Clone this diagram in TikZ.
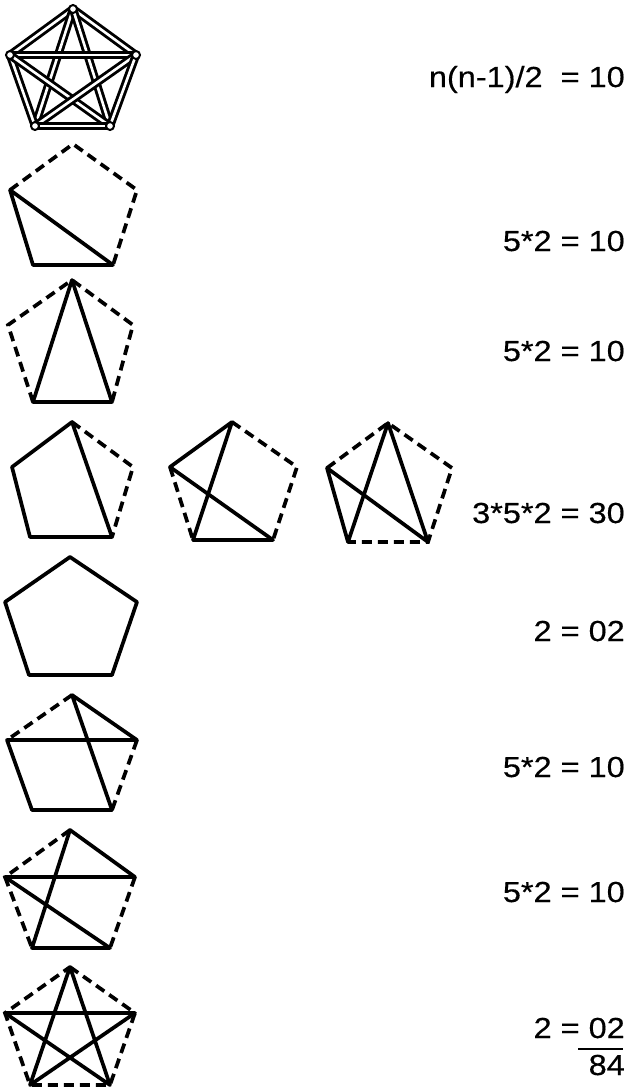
\documentclass[tikz,border=0pt]{standalone}
\usepackage{fontspec}
\setmainfont[FakeStretch=1.12,FakeBold=0.4]{Liberation Sans}
\newcommand\pentpts[6]{%
  \coordinate (#1t) at #2;
  \coordinate (#1l) at #3;
  \coordinate (#1r) at #4;
  \coordinate (#1bl) at #5;
  \coordinate (#1br) at #6;}
\begin{document}
\begin{tikzpicture}[x=1pt,y=-1pt,
  se/.style={line width=3.7pt, line cap=round, line join=round},
  de/.style={line width=3.7pt, dash pattern=on 10pt off 6pt},
  dbl/.style={line width=2.9pt, double=white, double distance=2.6pt},
  vtx/.style={circle, draw, line width=2pt, fill=white, inner sep=0pt, minimum size=8pt},
  lbl/.style={anchor=base east, font=\fontsize{29}{31}\selectfont, inner sep=0pt}]
\useasboundingbox (0,0) rectangle (632,1088);
\fill[white] (0,0) rectangle (632,1088);
% coordinates
\pentpts{K}{(73,9)}{(10,55)}{(136,55)}{(35,126)}{(110,126)}
\pentpts{B}{(73,144)}{(10,190)}{(137,190)}{(33,265)}{(113,265)}
\pentpts{C}{(72,280)}{(8,325)}{(133,325)}{(33,402)}{(112,402)}
\pentpts{D}{(72,422)}{(12,467)}{(133,467)}{(30,537)}{(112,537)}
\pentpts{E}{(232,422)}{(170,467)}{(297,467)}{(193,540)}{(273,540)}
\pentpts{F}{(388,423)}{(327,468)}{(452,468)}{(348,542)}{(428,542)}
\pentpts{G}{(70,557)}{(5,602)}{(137,602)}{(29,675)}{(112,675)}
\pentpts{H}{(72,695)}{(7,740)}{(137,740)}{(32,810)}{(112,810)}
\pentpts{I}{(70,830)}{(5,877)}{(135,877)}{(32,948)}{(110,948)}
\pentpts{J}{(70,967)}{(5,1013)}{(135,1013)}{(30,1085)}{(110,1085)}
% K5
\foreach \a/\b in {t/l,t/r,t/bl,t/br,l/r,l/bl,l/br,r/bl,r/br,bl/br}
  \draw[dbl] (K\a) -- (K\b);
\foreach \v in {t,l,r,bl,br}
  \node[vtx] (K\v v) at (K\v) {};
% B
\draw[de] (Bl) -- (Bt) -- (Br) -- (Bbr);
\draw[se] (Bbr) -- (Bbl) -- (Bl) -- (Bbr);
% C
\draw[de] (Cbl) -- (Cl) -- (Ct) -- (Cr) -- (Cbr);
\draw[se] (Ct) -- (Cbl) -- (Cbr) -- cycle;
% D
\draw[de] (Dt) -- (Dr) -- (Dbr);
\draw[se] (Dt) -- (Dl) -- (Dbl) -- (Dbr) -- cycle;
% E
\draw[de] (El) -- (Ebl);
\draw[de] (Et) -- (Er) -- (Ebr);
\draw[se] (Ebl) -- (Et) -- (El) -- (Ebr) -- (Ebl);
% F
\draw[de] (Fl) -- (Ft) -- (Fr) -- (Fbr) -- (Fbl);
\draw[se] (Ft) -- (Fbl) -- (Fl) -- (Fbr) -- cycle;
% G
\draw[se] (Gt) -- (Gr) -- (Gbr) -- (Gbl) -- (Gl) -- cycle;
% H
\draw[de] (Ht) -- (Hl);
\draw[de] (Hr) -- (Hbr);
\draw[se] (Hbr) -- (Hbl) -- (Hl) -- (Hr) -- (Ht) -- (Hbr);
% I
\draw[de] (It) -- (Il) -- (Ibl);
\draw[de] (Ir) -- (Ibr);
\draw[se] (Ibr) -- (Ibl) -- (It) -- (Ir) -- (Il) -- (Ibr);
% J
\draw[de] (Jt) -- (Jr) -- (Jbr) -- (Jbl) -- (Jl) -- cycle;
\draw[se] (Jt) -- (Jbl) -- (Jr) -- (Jl) -- (Jbr) -- cycle;
% labels
\node[lbl] (L1) at (625,87) {n(n-1)/2~ = 10};
\node[lbl] (L2) at (625,251) {5*2 = 10};
\node[lbl] (L3) at (625,361) {5*2 = 10};
\node[lbl] (L4) at (625,523) {3*5*2 = 30};
\node[lbl] (L5) at (625,641) {2 = 02};
\node[lbl] (L6) at (625,777) {5*2 = 10};
\node[lbl] (L7) at (625,902) {5*2 = 10};
\node[lbl] (L8) at (625,1038) {2 = 02};
\coordinate (U1) at (578,1049);
\coordinate (U2) at (623,1049);
\draw[line width=2.8pt] (U1) -- (U2);
\node[lbl] (L9) at (625,1075) {84};
\end{tikzpicture}
\end{document}
